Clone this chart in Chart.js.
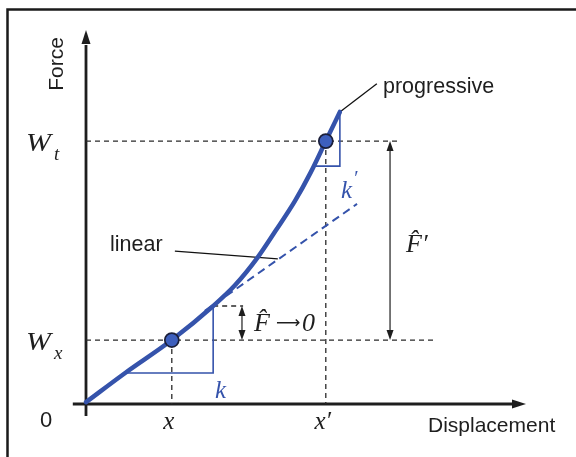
<!DOCTYPE html>
<html>
<head>
<meta charset="utf-8">
<script src="https://cdn.jsdelivr.net/npm/chart.js@4/dist/chart.umd.min.js"></script>
<style>
  html, body { margin: 0; padding: 0; background: #fff; }
  #wrap { width: 576px; height: 457px; }
</style>
</head>
<body>
<div id="wrap"><canvas id="c" width="576" height="457"></canvas></div>
<script>
// Force–displacement curve: linear at first, then progressive (stiffening)
const displacement = [0, 8.9, 19.5, 28.9, 33.9, 38.9, 43.2, 47.5, 51.1, 54.5, 57.7];
const force        = [0.5, 8.3, 17.1, 26.2, 31.8, 39.0, 46.5, 54.3, 62.0, 70.3, 78.1];

// Working points x and x' with their loads W_x and W_t
const markDisp  = [19.5, 54.5];
const markForce = [17.1, 70.3];
const markLabels = ['x', 'x′'];
const forceLabels = [['W', 'x'], ['W', 't']];

// Linear (tangent) extension of the initial stiffness
const linearDisp  = [27.0, 61.6];
const linearForce = [24.9, 53.5];

// Slope triangles for k and k'
const triKDisp  = [8.9, 28.9, 28.9];
const triKForce = [8.3, 8.3, 26.2];
const triK2Disp  = [51.8, 57.7, 57.7];
const triK2Force = [63.6, 63.6, 78.1];

// Ends of the horizontal / vertical guide lines
const guideEndWx = 79.3;
const guideEndWt = 70.9;
const deltaEnd = 35.7;      // end of the short guide at the linear limit
const deltaArrowX = 35.45;  // double arrow for F^ -> 0
const bigArrowX = 69.1;     // double arrow for F^'

// Leader lines to the curve names
const leaderProg = [[57.7, 78.1], [66.1, 85.6]];
const leaderLin  = [[20.2, 40.9], [43.6, 38.8]];

const BLUE = '#3553ab';
const INK = '#1e1e1e';

const pts = (xs, ys) => xs.map((x, i) => ({ x, y: ys[i] }));
const seg = (a, b) => [{ x: a[0], y: a[1] }, { x: b[0], y: b[1] }];

const guide = (data) => ({
  data, showLine: true, borderColor: '#2a2a2a', borderWidth: 1.3,
  borderDash: [5, 4], pointRadius: 0, clip: false, order: 5
});

const datasets = [
  // guide lines
  guide(seg([0, markForce[0]], [guideEndWx, markForce[0]])),
  guide(seg([0, markForce[1]], [guideEndWt, markForce[1]])),
  guide(seg([markDisp[0], markForce[0]], [markDisp[0], 0])),
  guide(seg([markDisp[1], markForce[1]], [markDisp[1], 0])),
  guide(seg([triKDisp[2], triKForce[2]], [deltaEnd, triKForce[2]])),
  // leaders
  { data: seg(...leaderProg), showLine: true, borderColor: '#111', borderWidth: 1.3, pointRadius: 0, clip: false, order: 4 },
  { data: seg(...leaderLin), showLine: true, borderColor: '#111', borderWidth: 1.3, pointRadius: 0, clip: false, order: 4 },
  // slope triangles
  { data: pts(triKDisp, triKForce), showLine: true, borderColor: BLUE, borderWidth: 1.6, pointRadius: 0, clip: false, order: 3 },
  { data: pts(triK2Disp, triK2Force), showLine: true, borderColor: BLUE, borderWidth: 1.6, pointRadius: 0, clip: false, order: 3 },
  // linear extension
  { data: pts(linearDisp, linearForce), showLine: true, borderColor: BLUE, borderWidth: 2,
    borderDash: [8, 5], pointRadius: 0, clip: false, order: 2 },
  // progressive curve
  { data: pts(displacement, force), showLine: true, borderColor: BLUE, borderWidth: 4.5,
    cubicInterpolationMode: 'monotone', pointRadius: 0, clip: false, order: 1,
    borderCapStyle: 'round' },
  // working points
  { data: pts(markDisp, markForce), showLine: false, pointRadius: 7, pointHoverRadius: 7,
    pointBackgroundColor: '#3d5fbd', pointBorderColor: '#1b1f3a', pointBorderWidth: 1.7,
    clip: false, order: 0 }
];

function arrowHead(ctx, x, y, dx, dy, len, half) {
  const nx = -dy, ny = dx;
  ctx.beginPath();
  ctx.moveTo(x, y);
  ctx.lineTo(x - dx * len + nx * half, y - dy * len + ny * half);
  ctx.lineTo(x - dx * len - nx * half, y - dy * len - ny * half);
  ctx.closePath();
  ctx.fill();
}

function doubleArrow(ctx, x, y1, y2) {
  ctx.save();
  ctx.strokeStyle = INK; ctx.fillStyle = INK; ctx.lineWidth = 1.2;
  ctx.beginPath(); ctx.moveTo(x, y1 + 4); ctx.lineTo(x, y2 - 4); ctx.stroke();
  arrowHead(ctx, x, y1, 0, -1, 10, 3.5);
  arrowHead(ctx, x, y2, 0, 1, 10, 3.5);
  ctx.restore();
}

const diagram = {
  id: 'diagram',
  beforeDatasetsDraw(chart) {
    const { ctx, scales: { x, y } } = chart;
    const X = v => x.getPixelForValue(v), Y = v => y.getPixelForValue(v);
    ctx.save();
    // frame
    ctx.strokeStyle = '#1a1a1a'; ctx.lineWidth = 2.5;
    ctx.strokeRect(7.5, 9.5, 600, 500);
    // axes
    ctx.strokeStyle = INK; ctx.fillStyle = INK; ctx.lineWidth = 2.8;
    ctx.beginPath();
    ctx.moveTo(X(0), Y(-3.2)); ctx.lineTo(X(0), Y(96));
    ctx.moveTo(X(-3), Y(0)); ctx.lineTo(X(97), Y(0));
    ctx.stroke();
    arrowHead(ctx, X(0), Y(100), 0, -1, 14, 4.5);
    arrowHead(ctx, X(100), Y(0), 1, 0, 14, 4.5);
    // double arrows
    doubleArrow(ctx, X(deltaArrowX), Y(triKForce[2]), Y(markForce[0]));
    doubleArrow(ctx, X(bigArrowX), Y(markForce[1]), Y(markForce[0]));
    ctx.restore();
  },
  afterDatasetsDraw(chart) {
    const { ctx, scales: { x, y } } = chart;
    const X = v => x.getPixelForValue(v), Y = v => y.getPixelForValue(v);
    const sans = s => s + 'px "Liberation Sans", Arial, sans-serif';
    const ital = s => 'italic ' + s + 'px "Liberation Serif", "Times New Roman", serif';
    ctx.save();
    ctx.fillStyle = INK;
    ctx.textBaseline = 'alphabetic';
    ctx.textAlign = 'left';

    // axis titles
    ctx.font = sans(21);
    ctx.fillText('Displacement', 428, Y(0) + 28);
    ctx.save();
    ctx.translate(63, 64);
    ctx.rotate(-Math.PI / 2);
    ctx.textAlign = 'center';
    ctx.fillText('Force', 0, 0);
    ctx.restore();
    ctx.font = sans(22);
    ctx.fillText('0', 40, Y(0) + 23);

    // curve names
    ctx.font = sans(21.5);
    ctx.fillText('progressive', 383, 93);
    ctx.fillText('linear', 110, 251);

    // load labels W_x, W_t
    forceLabels.forEach((lab, i) => {
      const base = Y(markForce[i]) + 9.5;
      ctx.save();
      ctx.translate(26, base);
      ctx.scale(1.15, 1);
      ctx.font = ital(26);
      ctx.fillText(lab[0], 0, 0);
      ctx.restore();
      ctx.font = ital(19);
      ctx.fillText(lab[1], 54, base + 9);
    });

    // displacement labels x, x'
    ctx.font = ital(25);
    ctx.textAlign = 'center';
    ctx.fillText(markLabels[0], X(markDisp[0]) - 3, Y(0) + 25);
    ctx.fillText(markLabels[1], X(markDisp[1]) - 3, Y(0) + 25);

    // stiffness labels
    ctx.textAlign = 'left';
    ctx.fillStyle = BLUE;
    ctx.fillText('k', 215, 398);
    ctx.fillText('k', 341, 198);
    ctx.font = ital(20);
    ctx.fillText('′', 353, 185);

    // force differences
    ctx.fillStyle = INK;
    ctx.font = ital(26);
    ctx.fillText('F̂', 254, 331);
    ctx.fillText('0', 302, 331);
    ctx.font = '17px "DejaVu Sans", sans-serif';
    ctx.fillText('⟶', 276, 328);
    ctx.font = ital(26);
    ctx.fillText('F̂′', 406, 252);
    ctx.restore();
  }
};

new Chart(document.getElementById('c'), {
  type: 'scatter',
  data: { datasets },
  options: {
    responsive: false,
    animation: false,
    events: [],
    layout: { padding: { left: 86, right: 50, top: 30, bottom: 53 } },
    plugins: { legend: { display: false }, tooltip: { enabled: false } },
    scales: {
      x: { type: 'linear', min: 0, max: 100, display: false },
      y: { type: 'linear', min: 0, max: 100, display: false }
    }
  },
  plugins: [diagram]
});
</script>
</body>
</html>
